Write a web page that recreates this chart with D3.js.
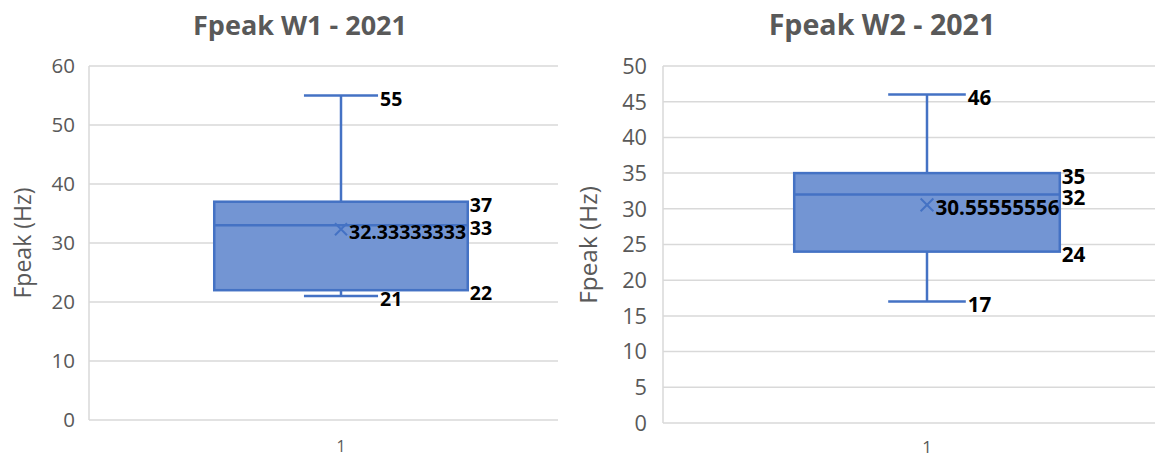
<!DOCTYPE html>
<html>
<head>
<meta charset="utf-8">
<script src="https://cdn.jsdelivr.net/npm/d3@7"></script>
<style>
  body { margin: 0; background: #ffffff; }
  svg { display: block; }
</style>
</head>
<body>
<svg id="chart" width="1155" height="459"></svg>
<script>
// Box-and-whisker summaries for the two Fpeak windows (2021)
const chartTitles = ["Fpeak W1 - 2021", "Fpeak W2 - 2021"];
const categories = ["1"];
const whiskerMin = [21, 17];
const q1 = [22, 24];
const median = [33, 32];
const q3 = [37, 35];
const whiskerMax = [55, 46];
const means = [32.33333333, 30.55555556];
const yTicksW1 = [0, 10, 20, 30, 40, 50, 60];
const yTicksW2 = [0, 5, 10, 15, 20, 25, 30, 35, 40, 45, 50];
const yAxisTitle = "Fpeak (Hz)";

// Panel geometry (pixels) and type scale
const panels = [
  { left: 89, top: 66, bottom: 420, gridRight: 558, bandRight: 593,
    titleX: 300, titleY: 35, yTitleX: 31, yTitleY: 243, tickGap: 14,
    xLabelY: 452, k: 1.0, ticks: yTicksW1 },
  { left: 663, top: 66, bottom: 423, gridRight: 1155, bandRight: 1191,
    titleX: 882, titleY: 35, yTitleX: 597, yTitleY: 245, tickGap: 16,
    xLabelY: 453, k: 1.06, ticks: yTicksW2 }
];

const BLUE = "#4472C4";
const GREY_TEXT = "#595959";
const GRID = "#d9d9d9";
const FONT = "'Open Sans', 'Liberation Sans', sans-serif";

const svg = d3.select("#chart");

panels.forEach((p, i) => {
  const g = svg.append("g");
  const ticks = p.ticks;

  const y = d3.scaleLinear()
    .domain([0, d3.max(ticks)])
    .range([p.bottom, p.top]);

  const x = d3.scaleBand()
    .domain(categories)
    .range([p.left, p.bandRight])
    .paddingInner(0).paddingOuter(0);

  // Chart title
  g.append("text")
    .attr("x", p.titleX).attr("y", p.titleY)
    .attr("text-anchor", "middle")
    .attr("font-family", FONT)
    .attr("font-weight", 700)
    .attr("font-size", 27 * p.k)
    .attr("fill", GREY_TEXT)
    .text(chartTitles[i]);

  // Horizontal gridlines
  g.append("g").selectAll("line")
    .data(ticks)
    .join("line")
    .attr("x1", p.left).attr("x2", p.gridRight)
    .attr("y1", d => y(d)).attr("y2", d => y(d))
    .attr("stroke", GRID).attr("stroke-width", 1.5);

  // Left axis line
  g.append("line")
    .attr("x1", p.left).attr("x2", p.left)
    .attr("y1", y(d3.max(ticks))).attr("y2", y(0))
    .attr("stroke", GRID).attr("stroke-width", 1.5);

  // Y tick labels
  g.append("g").selectAll("text")
    .data(ticks)
    .join("text")
    .attr("x", p.left - p.tickGap)
    .attr("y", d => y(d))
    .attr("dy", "0.36em")
    .attr("text-anchor", "end")
    .attr("font-family", FONT)
    .attr("font-size", 20.5 * p.k)
    .attr("fill", GREY_TEXT)
    .text(d => d);

  // Y axis title
  g.append("text")
    .attr("transform", `translate(${p.yTitleX},${p.yTitleY}) rotate(-90)`)
    .attr("text-anchor", "middle")
    .attr("font-family", FONT)
    .attr("font-size", 23 * p.k)
    .attr("fill", GREY_TEXT)
    .text(yAxisTitle);

  // Category label
  g.append("text")
    .attr("x", x(categories[0]) + x.bandwidth() / 2)
    .attr("y", p.xLabelY)
    .attr("text-anchor", "middle")
    .attr("font-family", FONT)
    .attr("font-size", 16 * p.k)
    .attr("fill", GREY_TEXT)
    .text(categories[0]);

  // Box and whiskers
  const cx = x(categories[0]) + x.bandwidth() / 2;
  const boxW = x.bandwidth() * 0.503;
  const capW = x.bandwidth() * 0.147;
  const boxL = cx - boxW / 2, boxR = cx + boxW / 2;
  const capR = cx + capW / 2;

  // whisker stems
  g.append("line")
    .attr("x1", cx).attr("x2", cx)
    .attr("y1", y(q3[i])).attr("y2", y(whiskerMax[i]))
    .attr("stroke", BLUE).attr("stroke-width", 2.5);
  g.append("line")
    .attr("x1", cx).attr("x2", cx)
    .attr("y1", y(q1[i])).attr("y2", y(whiskerMin[i]))
    .attr("stroke", BLUE).attr("stroke-width", 2.5);
  // whisker caps
  [whiskerMax[i], whiskerMin[i]].forEach(v => {
    g.append("line")
      .attr("x1", cx - capW / 2).attr("x2", cx + capW / 2)
      .attr("y1", y(v)).attr("y2", y(v))
      .attr("stroke", BLUE).attr("stroke-width", 2.5);
  });

  // box
  g.append("rect")
    .attr("x", boxL).attr("y", y(q3[i]))
    .attr("width", boxW).attr("height", y(q1[i]) - y(q3[i]))
    .attr("fill", "#7395d3")
    .attr("stroke", BLUE).attr("stroke-width", 2.5);
  // median
  g.append("line")
    .attr("x1", boxL).attr("x2", boxR)
    .attr("y1", y(median[i])).attr("y2", y(median[i]))
    .attr("stroke", BLUE).attr("stroke-width", 2.5);

  // mean marker (x)
  const mY = y(means[i]);
  const s = 6 * p.k;
  g.append("path")
    .attr("d", `M${cx - s},${mY - s}L${cx + s},${mY + s}M${cx - s},${mY + s}L${cx + s},${mY - s}`)
    .attr("stroke", BLUE).attr("stroke-width", 2).attr("fill", "none");

  // value labels
  const labels = [
    { x: capR + 2, v: whiskerMax[i], t: String(whiskerMax[i]) },
    { x: capR + 2, v: whiskerMin[i], t: String(whiskerMin[i]) },
    { x: boxR + 2, v: q3[i], t: String(q3[i]) },
    { x: boxR + 2, v: median[i], t: String(median[i]) },
    { x: boxR + 2, v: q1[i], t: String(q1[i]) },
    { x: cx + 8 * p.k, v: means[i], t: String(means[i]) }
  ];
  g.append("g").selectAll("text")
    .data(labels)
    .join("text")
    .attr("x", d => d.x)
    .attr("y", d => y(d.v) + 3)
    .attr("dy", "0.36em")
    .attr("font-family", FONT)
    .attr("font-weight", 700)
    .attr("font-size", 19.5 * p.k)
    .attr("fill", "#000000")
    .text(d => d.t);
});
</script>
</body>
</html>
